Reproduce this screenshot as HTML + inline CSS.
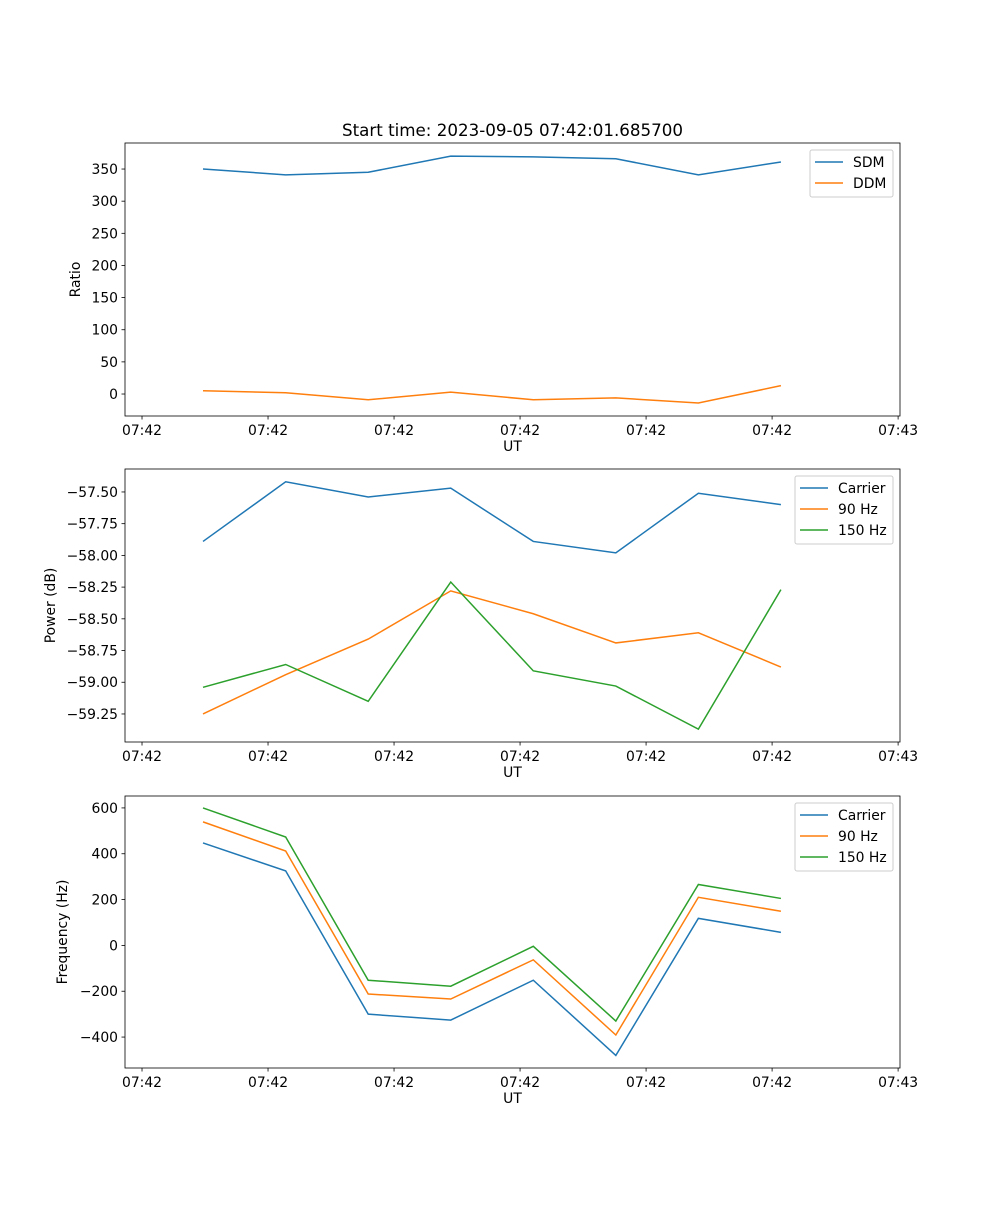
<!DOCTYPE html>
<html><head><meta charset="utf-8"><style>
body{margin:0;background:#fff}
svg text{font-family:"DejaVu Sans","Liberation Sans",sans-serif;font-size:13.9px;fill:#000}
</style></head><body>
<svg id="chart" width="1000" height="1200" xmlns="http://www.w3.org/2000/svg"></svg>
<script>
const times = [4.84, 11.4, 17.95, 24.5, 31.05, 37.6, 44.15, 50.7];
const xTickVals = [0, 10, 20, 30, 40, 50, 60];
const xTickLabels = ["07:42","07:42","07:42","07:42","07:42","07:42","07:43"];
const sdm = [350, 341, 345, 370, 369, 366, 341, 361];
const ddm = [5, 2, -9, 3, -9, -6, -14, 13];
const pwrCarrier = [-57.89, -57.42, -57.54, -57.47, -57.89, -57.98, -57.51, -57.60];
const pwr90 = [-59.25, -58.94, -58.66, -58.28, -58.46, -58.69, -58.61, -58.88];
const pwr150 = [-59.04, -58.86, -59.15, -58.21, -58.91, -59.03, -59.37, -58.27];
const frqCarrier = [447, 325, -300, -326, -152, -480, 118, 57];
const frq90 = [539, 412, -212, -234, -63, -391, 210, 149];
const frq150 = [600, 473, -152, -178, -4, -330, 266, 205];
const ticks1 = [0, 50, 100, 150, 200, 250, 300, 350];
const ticks2 = [-59.25, -59.0, -58.75, -58.5, -58.25, -58.0, -57.75, -57.5];
const ticks3 = [-400, -200, 0, 200, 400, 600];

const svg = document.getElementById('chart');
const NS = 'http://www.w3.org/2000/svg';
function mk(tag, attrs, parent){const e=document.createElementNS(NS,tag);for(const k in attrs)e.setAttribute(k,attrs[k]);(parent||svg).appendChild(e);return e;}
const X0=125,X1=900,XMIN=-1.35,XMAX=60.15;
function xs(t){return X0+(t-XMIN)/(XMAX-XMIN)*(X1-X0);}
const colors=['#1f77b4','#ff7f0e','#2ca02c'];

function panel(name, top, bottom, ymin, ymax, yticks, fmt, ylabel, series, names, legend, title){
  const g=mk('g',{});
  
  
  const ys=v=>bottom-(v-ymin)/(ymax-ymin)*(bottom-top);
  series.forEach((s,i)=>{
    const p=mk('polyline',{points:s.map((v,j)=>xs(times[j])+','+ys(v)).join(' '),fill:'none',stroke:colors[i],'stroke-width':1.5},g);
    
    
  });
  mk('rect',{x:X0,y:top,width:X1-X0,height:bottom-top,fill:'none',stroke:'#000','stroke-width':0.8},g);
  xTickVals.forEach((t,i)=>{
    const x=xs(t);
    mk('line',{x1:x,x2:x,y1:bottom,y2:bottom+3.5,stroke:'#000','stroke-width':0.8},g);
    const tx=mk('text',{x:x,y:bottom+19,'text-anchor':'middle'},g);tx.textContent=xTickLabels[i];
    
    
  });
  yticks.forEach(v=>{
    const y=ys(v);
    mk('line',{x1:X0,x2:X0-3.5,y1:y,y2:y,stroke:'#000','stroke-width':0.8},g);
    const tx=mk('text',{x:X0-7,y:y+5,'text-anchor':'end'},g);tx.textContent=fmt(v);
    
    
  });
  const xl=mk('text',{x:(X0+X1)/2,y:bottom+35,'text-anchor':'middle'},g);xl.textContent='UT';
  
  
  const yl=mk('text',{x:0,y:0,'text-anchor':'middle',transform:`translate(${legend.yl},${(top+bottom)/2}) rotate(-90)`},g);yl.textContent=ylabel;
  
  
  if(title){const tt=mk('text',{x:(X0+X1)/2,y:top-7,'text-anchor':'middle'},g);tt.textContent=title;tt.style.fontSize='16.7px';
    
    }
  const lg=mk('g',{},g);
  
  
  mk('rect',{x:legend.x,y:top+7,width:893-legend.x,height:names.length*21+5,fill:'#fff',stroke:'#ccc',rx:2},lg);
  names.forEach((n,i)=>{
    const y=top+19+i*21;
    mk('line',{x1:legend.x+5,x2:legend.x+33,y1:y,y2:y,stroke:colors[i],'stroke-width':1.5},lg);
    const t=mk('text',{x:legend.x+43,y:y+5},lg);t.textContent=n;
    
    
  });
}
panel('ratio-panel',143,416,-34.2,390.5,ticks1,v=>String(v),'Ratio',[sdm,ddm],['SDM','DDM'],{x:810,yl:80},'Start time: 2023-09-05 07:42:01.685700');
panel('power-panel',469,742,-59.471,-57.319,ticks2,v=>v.toFixed(2).replace('-','−'),'Power (dB)',[pwrCarrier,pwr90,pwr150],['Carrier','90 Hz','150 Hz'],{x:795,yl:55});
panel('frequency-panel',796,1068,-535,652,ticks3,v=>String(v).replace('-','−'),'Frequency (Hz)',[frqCarrier,frq90,frq150],['Carrier','90 Hz','150 Hz'],{x:795,yl:67});
</script>
</body></html>
